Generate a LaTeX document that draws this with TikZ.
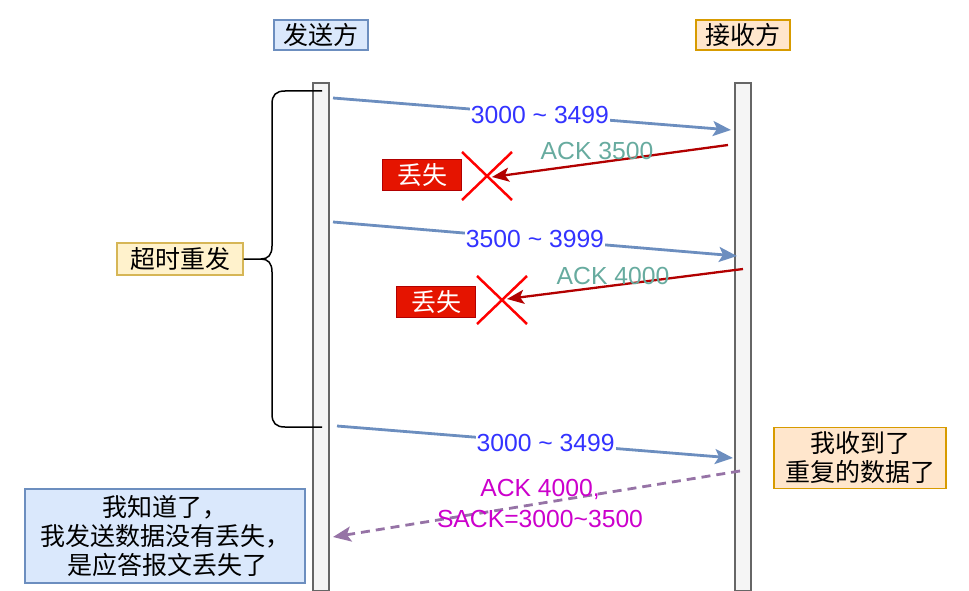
\documentclass[tikz,border=0pt]{standalone}
\usepackage{fontspec}
\setmainfont{Liberation Sans}
\newfontfamily\cjk{Noto Sans CJK SC}
\usetikzlibrary{arrows.meta,calc}
\definecolor{blueFill}{HTML}{DAE8FC}
\definecolor{blueLine}{HTML}{6C8EBF}
\definecolor{orangeFill}{HTML}{FFE6CC}
\definecolor{orangeLine}{HTML}{D79B00}
\definecolor{yellowFill}{HTML}{FFF2CC}
\definecolor{yellowLine}{HTML}{D6B656}
\definecolor{lifeFill}{HTML}{F5F5F5}
\definecolor{lifeLine}{HTML}{666666}
\definecolor{numBlue}{HTML}{3333FF}
\definecolor{ackRed}{HTML}{B20000}
\definecolor{ackGreen}{HTML}{67AB9F}
\definecolor{lostFill}{HTML}{E51400}
\definecolor{dashPurple}{HTML}{9673A6}
\definecolor{sackMag}{HTML}{CC00CC}
\begin{document}
\begin{tikzpicture}[x=1pt,y=-1pt,
  cjkfont/.style={font=\cjk\fontsize{25}{29}\selectfont},
  latfont/.style={font=\fontsize{24.7}{29}\selectfont},
  hdrblue/.style={draw=blueLine,fill=blueFill,line width=1.3pt,cjkfont,minimum width=94,minimum height=30,inner sep=0pt},
  hdrorange/.style={draw=orangeLine,fill=orangeFill,line width=1.3pt,cjkfont,minimum width=94,minimum height=30,inner sep=0pt},
  lifeline/.style={draw=lifeLine,fill=lifeFill,line width=1.3pt,minimum width=16,minimum height=508,inner sep=0pt},
  numlbl/.style={latfont,text=numBlue,fill=white,inner sep=1pt},
  acklbl/.style={latfont,text=ackGreen,inner sep=0pt},
  sacklbl/.style={latfont,text=sackMag,inner sep=0pt},
  dataarrow/.style={draw=blueLine,line width=2.8pt,-{Stealth[length=18pt,width=15pt,inset=4pt]}},
  ackarrow/.style={draw=ackRed,line width=2.3pt,-{Stealth[length=17pt,width=14pt,inset=4pt]}},
  sackarrow/.style={draw=dashPurple,line width=2.8pt,dash pattern=on 9pt off 6pt,-{Stealth[length=18pt,width=15pt,inset=4pt]}},
  lostbox/.style={draw=ackRed,fill=lostFill,text=white,line width=1pt,cjkfont,minimum width=79,minimum height=31,inner sep=0pt},
  xmark/.style={draw=red,line width=2.5pt},
  notebox/.style={line width=1.3pt,cjkfont,align=center,inner sep=0pt}
]
\useasboundingbox (0,0) rectangle (969,591);

% headers
\node[hdrblue] (snd) at (321,35) {发送方};
\node[hdrorange] (rcv) at (743,35) {接收方};

% lifelines
\node[lifeline] (L) at (321,337) {};
\node[lifeline] (R) at (743,337) {};

% timeout brace and label
\node[draw=yellowLine,fill=yellowFill,line width=1.3pt,cjkfont,minimum width=126,minimum height=32,inner sep=0pt] (to) at (180,259) {超时重发};
\coordinate (btop) at (322,91);
\coordinate (bbot) at (322,427);
\coordinate (btip) at (to.east);
\draw[line width=1.5pt] (btop) -- (285,91) .. controls (276,91) and (272,95) .. (272,104)
  -- (272,246) .. controls (272,255) and (268,259) .. (261,259) -- (btip);
\draw[line width=1.5pt] (bbot) -- (285,427) .. controls (276,427) and (272,423) .. (272,414)
  -- (272,272) .. controls (272,263) and (268,259) .. (261,259);

% first data segment
\coordinate (d1s) at (333,98);
\coordinate (d1e) at (731,130);
\draw[dataarrow] (d1s) -- node[numlbl,pos=0.52] (n1) {3000 \char`\~{} 3499} (d1e);

\coordinate (k1s) at (728,145);
\node[lostbox] (lost1) at (422,175) {丢失};
\coordinate (x1) at (487,176);
\draw[xmark] ($(x1)+(-25,-24)$) -- ($(x1)+(25,24)$);
\draw[xmark] ($(x1)+(-25,24)$) -- ($(x1)+(25,-24)$);
\coordinate (k1e) at (492,177);
\draw[ackarrow] (k1s) -- (k1e);
\node[acklbl] (a1) at (597,151) {ACK 3500};

% second data segment
\coordinate (d2s) at (333,222);
\coordinate (d2e) at (737,256);
\draw[dataarrow] (d2s) -- node[numlbl,pos=0.5] (n2) {3500 \char`\~{} 3999} (d2e);

\coordinate (k2s) at (743,269);
\node[lostbox] (lost2) at (436,302) {丢失};
\coordinate (x2) at (502,300);
\draw[xmark] ($(x2)+(-25,-24)$) -- ($(x2)+(25,24)$);
\draw[xmark] ($(x2)+(-25,24)$) -- ($(x2)+(25,-24)$);
\coordinate (k2e) at (507,299);
\draw[ackarrow] (k2s) -- (k2e);
\node[acklbl] (a2) at (613,276) {ACK 4000};

% retransmission
\coordinate (d3s) at (337,426);
\coordinate (d3e) at (733,458);
\draw[dataarrow] (d3s) -- node[numlbl,pos=0.527] (n3) {3000 \char`\~{} 3499} (d3e);

\node[notebox,draw=orangeLine,fill=orangeFill,minimum width=172,minimum height=61] (dup) at (860,458) {我收到了\\重复的数据了};

% SACK
\coordinate (s1s) at (740,471);
\coordinate (s1e) at (333,537);
\draw[sackarrow] (s1s) -- (s1e);
\node[sacklbl] (sk1) at (540,489) {ACK 4000,};
\node[sacklbl] (sk2) at (540,519) {SACK=3000\char`\~3500};

\node[notebox,draw=blueLine,fill=blueFill,minimum width=280,minimum height=94] (know) at (165,536) {我知道了，\\我发送数据没有丢失，\\\ 是应答报文丢失了};
\end{tikzpicture}
\end{document}
